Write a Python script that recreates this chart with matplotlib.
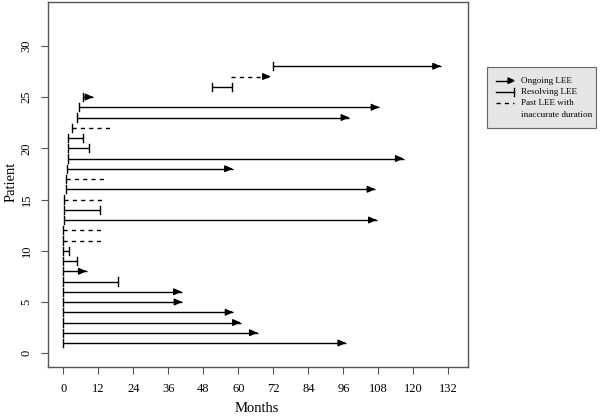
import matplotlib
matplotlib.use("Agg")
import matplotlib.pyplot as plt
from matplotlib.patches import Rectangle
from matplotlib.lines import Line2D

plt.rcParams['font.family'] = ['Liberation Serif', 'DejaVu Serif']

patients = list(range(1, 29))
start = [0, 0, 0, 0, 0, 0, 0, 0, 0, 0,
         0, 0, 0.25, 0.25, 0.3, 0.8, 0.9, 1.4, 1.7, 1.7,
         1.7, 2.9, 4.8, 5.5, 6.7, 50.9, 57.4, 71.8]
end = [96.9, 66.6, 60.8, 58.3, 40.8, 40.6, 18.75, 8.0, 4.8, 1.85,
       13.2, 13.2, 107.4, 12.7, 13.7, 106.9, 13.95, 58.1, 116.6, 8.9,
       6.9, 16.25, 98.0, 108.3, 10.3, 57.9, 71.1, 129.4]
# O = ongoing (arrow), R = resolving (bar end), P = past, inaccurate (dashed), PA = dashed with arrow
kind = ['O', 'O', 'O', 'O', 'O', 'O', 'R', 'O', 'R', 'R',
        'P', 'P', 'O', 'R', 'P', 'O', 'P', 'O', 'O', 'R',
        'R', 'P', 'O', 'O', 'O', 'R', 'PA', 'O']

xticks = list(range(0, 133, 12))
yticks = [0, 5, 10, 15, 20, 25, 30]

W, H = 600, 416
fig = plt.figure(figsize=(6, 4.16), dpi=100)
ax = fig.add_axes([48 / W, 1 - 367.3 / H, (468.3 - 48) / W, (367.3 - 1.7) / H])
ax.set_xlim(-5.2, 138.8)
ax.set_ylim(-1.37, 34.3)

lw = 1.0
tick_h = 0.4
arrow_kw = dict(arrowstyle='-|>,head_length=0.45,head_width=0.2', color='black',
                lw=lw, shrinkA=0, shrinkB=0, mutation_scale=10)

for p, s, e, k in zip(patients, start, end, kind):
    ls = '-' if k in ('O', 'R') else (0, (3, 3))
    ax.plot([s, e], [p, p], color='black', lw=lw, linestyle=ls, solid_capstyle='butt')
    if k != 'PA':
        ax.plot([s, s], [p - tick_h, p + tick_h], color='black', lw=lw)
    if k == 'R':
        ax.plot([e, e], [p - tick_h, p + tick_h], color='black', lw=lw)
    if k in ('O', 'PA'):
        ax.annotate('', xy=(e, p), xytext=(e - 1.0, p), arrowprops=arrow_kw)

ax.set_xticks(xticks)
ax.set_xticklabels([str(v) for v in xticks])
ax.set_yticks(yticks)
ax.set_yticklabels([str(v) for v in yticks], rotation=90, va='center')
ax.tick_params(axis='both', labelsize=9, length=5, width=0.8, color='#555555', pad=6)
for sp in ax.spines.values():
    sp.set_color('#555555')
    sp.set_linewidth(1.0)

def fx(x):
    return x / W

def fy(y):
    return 1 - y / H

fig.text(fx(257), fy(408), 'Months', fontsize=10.5, ha='center', va='center')
fig.text(fx(11), fy(182), 'Patient', fontsize=10.5, ha='center', va='center', rotation=90)

# legend (drawn in figure pixel coords)
fig.patches.append(Rectangle((fx(486.7), fy(128.3)), fx(596 - 486.7), (128.3 - 67.3) / H,
                             transform=fig.transFigure, facecolor='#e6e6e6',
                             edgecolor='#666666', lw=0.8))
x0, x1 = 496, 514
fig.lines.append(Line2D([fx(x0), fx(x1 - 5)], [fy(80.7), fy(80.7)], color='black', lw=lw,
                        transform=fig.transFigure))
fig.patches.append(plt.Polygon([[fx(x1 - 6), fy(77.9)], [fx(x1 - 6), fy(83.5)], [fx(x1), fy(80.7)]],
                               closed=True, color='black', transform=fig.transFigure))
fig.lines.append(Line2D([fx(x0), fx(x1)], [fy(91.7), fy(91.7)], color='black', lw=lw,
                        transform=fig.transFigure))
fig.lines.append(Line2D([fx(x1), fx(x1)], [fy(87.7), fy(95.7)], color='black', lw=lw,
                        transform=fig.transFigure))
fig.lines.append(Line2D([fx(x0), fx(x1)], [fy(103.3), fy(103.3)], color='black', lw=lw,
                        linestyle=(0, (3, 3)), transform=fig.transFigure))
legend_texts = [('Ongoing LEE', 80.7), ('Resolving LEE', 91.7),
                ('Past LEE with', 103.3), ('inaccurate duration', 115.0)]
for t, y in legend_texts:
    fig.text(fx(521), fy(y), t, fontsize=6.6, va='center', ha='left')

fig.savefig('out.png', dpi=100)
